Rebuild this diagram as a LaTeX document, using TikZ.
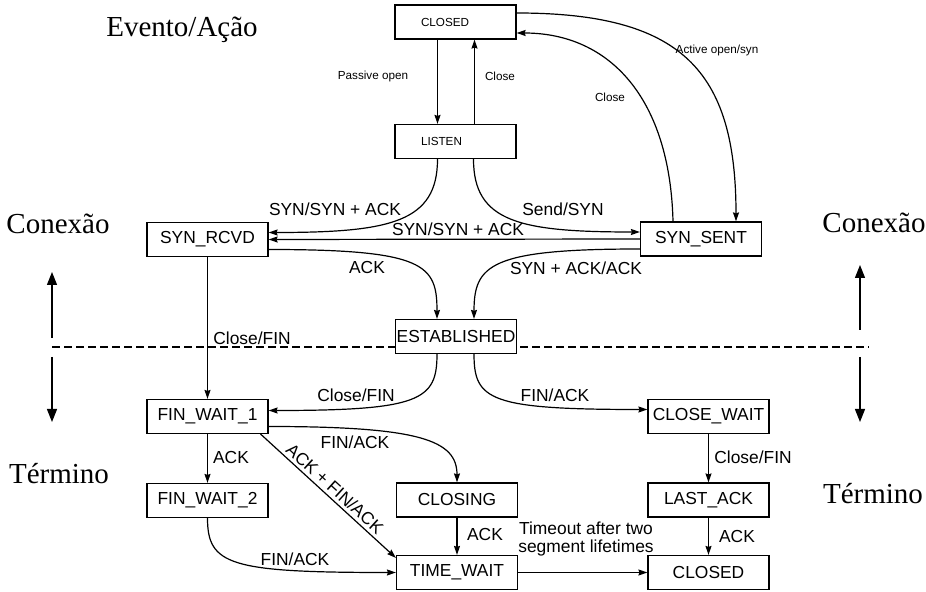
\documentclass[tikz,border=0pt]{standalone}
\usepackage{fontspec}
\setmainfont{Liberation Serif}
\setsansfont{Liberation Sans}
\usetikzlibrary{calc,arrows.meta,positioning}

\tikzset{
  state/.style={draw, fill=white, line width=0.6pt, minimum width=60.5pt,
    minimum height=17pt, inner sep=0pt, font=\sffamily\fontsize{8.7}{9}\selectfont},
  topstate/.style={state, font=\sffamily\fontsize{5.85}{7}\selectfont,
    text width=34.5pt, align=left, inner xsep=13pt},
  lbl/.style={font=\sffamily\fontsize{8.7}{9}\selectfont, inner sep=0pt},
  smalllbl/.style={font=\sffamily\fontsize{5.85}{7}\selectfont, inner sep=0pt},
  phase/.style={font=\fontsize{14.5}{16}\selectfont, inner sep=0pt},
  arr/.style={line width=0.6pt, -{Stealth[length=4.5pt,width=3pt,inset=0.5pt]}},
  sidearr/.style={line width=0.6pt, -{Triangle[length=6.5pt,width=5pt]}},
  dashline/.style={line width=0.6pt, dash pattern=on 4pt off 2pt}
}

\begin{document}
\begin{tikzpicture}[x=0.5pt, y=-0.5pt]
\useasboundingbox (0,0) rectangle (926,592);

\coordinate (cDashL) at (52,347);
\coordinate (cDashR) at (869,347);
\draw[dashline] (cDashL) -- (cDashR);

\foreach \x/\a/\b/\c/\d in {52/338/272/357/422, 860/330/265/357/422}
{
    \draw[sidearr] (\x,\a) -- (\x,\b);
    \draw[sidearr] (\x,\c) -- (\x,\d);
};

% states
\foreach \n/\x/\y/\t in
{   closedA/455.5/22/CLOSED,
    listen/455.5/141.5/LISTEN
}
{
    \node[topstate] (\n) at (\x,\y) {\t};
};

\foreach \n/\x/\y/\t in
{   synrcvd/207.5/239.5/SYN\_RCVD,
    synsent/701/239/SYN\_SENT,
    estab/456/336.5/ESTABLISHED,
    finwaitA/207.5/416.5/FIN\_WAIT\_1,
    closewait/708.5/416.5/CLOSE\_WAIT,
    finwaitB/207.5/500.5/FIN\_WAIT\_2,
    closing/457/500/CLOSING,
    lastack/708.5/500/LAST\_ACK,
    timewait/457/572.5/TIME\_WAIT,
    closedB/708.5/572.5/CLOSED
}
{
    \node[state] (\n) at (\x,\y) {\t};
};

% transitions
\draw[arr] ($(closedA.south)+(-18,0)$) -- ($(listen.north)+(-18,0)$);
\draw[arr] ($(listen.north)+(19,0)$) -- ($(closedA.south)+(19,0)$);
\draw[arr] ($(closedA.east)+(0,-9)$) .. controls +(164,0) and +(0,-152) .. ($(synsent.north)+(35,0)$);
\draw[arr] ($(synsent.north)+(-28,0)$) .. controls +(-3,-122) and +(94,0) .. ($(closedA.east)+(0,11)$);
\draw[arr] ($(listen.south)+(-18,0)$) .. controls +(0,63) and +(122,0) .. ($(synrcvd.east)+(0,-7)$);
\draw[arr] ($(listen.south)+(18,0)$) .. controls +(0,63) and +(-120,0) .. ($(synsent.west)+(0,-7)$);
\draw[arr] (synsent.west) -- (synrcvd.east);
\draw[arr] ($(synrcvd.east)+(0,10)$) .. controls +(157,0) and +(0,-54) .. ($(estab.north)+(-19,0)$);
\draw[arr] ($(synsent.west)+(0,10)$) .. controls +(-150,0) and +(0,-54) .. ($(estab.north)+(18,0)$);
\draw[arr] (synrcvd) -- (finwaitA);
\draw[arr] ($(estab.south)+(-19,0)$) .. controls +(0,46) and +(152,0) .. ($(finwaitA.east)+(0,-6)$);
\draw[arr] ($(estab.south)+(18,0)$) .. controls +(0,46) and +(-158,0) .. ($(closewait.west)+(0,-7)$);
\draw[arr] ($(finwaitA.east)+(0,10)$) .. controls +(152,0) and +(0,-42) .. (closing.north);
\draw[arr] (finwaitA) -- (finwaitB);
\draw[arr] ($(finwaitA.south east)+(-8,0)$) -- ($(timewait.north west)+(0,3)$)
    node[midway, sloped, above=1.5pt, lbl] (lblAckFin) {ACK + FIN/ACK};
\draw[arr] (finwaitB.south) .. controls +(0,47) and +(-166,0) .. (timewait.west);
\draw[arr] (closing) -- (timewait);
\draw[arr] (closewait) -- (lastack);
\draw[arr] (lastack) -- (closedB);
\draw[arr] (timewait) -- (closedB);

% labels
\foreach \n/\x/\y/\t in
{   lblPassive/373/76/{Passive open},
    lblCloseA/500/76/{Close},
    lblActive/717/50/{Active open/syn},
    lblCloseB/610/97/{Close}
}
{
    \node[smalllbl] (\n) at (\x,\y) {\t};
};

\foreach \n/\x/\y/\t in
{   lblSynA/335/209/{SYN/SYN + ACK},
    lblSynB/458/229/{SYN/SYN + ACK},
    lblSend/563/209/{Send/SYN},
    lblAckA/367/268/{ACK},
    lblSynAck/576/268/{SYN + ACK/ACK},
    lblCloseFinA/252/338/{Close/FIN},
    lblCloseFinB/356/395/{Close/FIN},
    lblFinAckA/555/395/{FIN/ACK},
    lblFinAckB/355/442/{FIN/ACK},
    lblAckB/231/458/{ACK},
    lblFinAckC/295/559/{FIN/ACK},
    lblAckC/485/535/{ACK},
    lblCloseFinC/753/457/{Close/FIN},
    lblAckD/737/537/{ACK}
}
{
    \node[lbl] (\n) at (\x,\y) {\t};
};
\node[lbl, align=center] (lblTimeout) at (586,539) {Timeout after two\\segment lifetimes};

\foreach \n/\x/\y/\t in
{   phEvento/182/30/{Evento/Ação},
    phConL/58/224/{Conexão},
    phTerL/59/474/{Término},
    phConR/874/223/{Conexão},
    phTerR/873/494/{Término}
}
{
    \node[phase] (\n) at (\x,\y) {\t};
};

\end{tikzpicture}
\end{document}
